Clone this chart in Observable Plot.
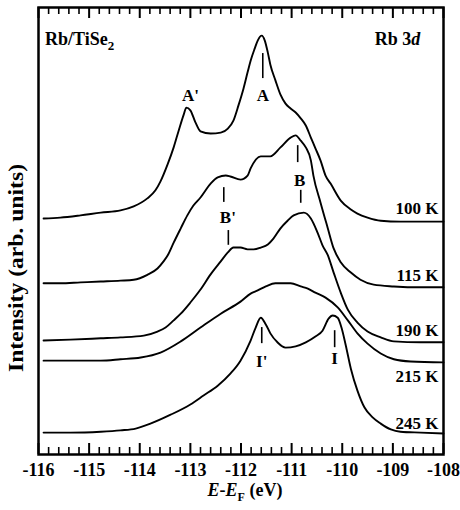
<!DOCTYPE html>
<html>
<head>
<meta charset="utf-8">
<script src="https://cdn.jsdelivr.net/npm/d3@7"></script>
<script src="https://cdn.jsdelivr.net/npm/@observablehq/plot@0.6"></script>
<style>
  body { margin: 0; background: #fff; }
  #chart svg { display: block; }
</style>
</head>
<body>
<div id="chart"></div>
<script>
// Rb 3d photoemission spectra of Rb/TiSe2, stacked by temperature (arb. units, offsets included)
const e100 = [-115.90,-115.57,-115.17,-114.77,-114.38,-114.12,-113.85,-113.69,-113.59,-113.45,-113.33,-113.23,-113.13,-113.08,-113.00,-112.90,-112.80,-112.60,-112.40,-112.26,-112.15,-112.05,-111.95,-111.87,-111.81,-111.73,-111.67,-111.59,-111.53,-111.47,-111.42,-111.32,-111.22,-111.12,-111.02,-110.92,-110.82,-110.72,-110.62,-110.53,-110.43,-110.33,-110.23,-110.03,-109.83,-109.70,-109.50,-109.24,-108.85,-108.45,-108.00];
const i100 = [5.28,5.30,5.35,5.41,5.46,5.55,5.73,5.91,6.11,6.49,6.87,7.25,7.61,7.76,7.70,7.43,7.23,7.18,7.20,7.29,7.47,7.81,8.19,8.55,8.81,9.08,9.26,9.37,9.26,8.99,8.72,8.37,8.05,7.85,7.74,7.65,7.52,7.36,7.09,6.85,6.58,6.24,6.06,5.68,5.48,5.39,5.30,5.23,5.21,5.21,5.21];

const e115 = [-115.90,-115.57,-115.17,-114.77,-114.38,-114.12,-113.85,-113.65,-113.53,-113.45,-113.33,-113.19,-113.06,-112.94,-112.80,-112.60,-112.46,-112.30,-112.21,-112.01,-111.87,-111.81,-111.61,-111.42,-111.22,-111.02,-110.92,-110.82,-110.72,-110.62,-110.57,-110.43,-110.29,-110.17,-110.03,-109.83,-109.64,-109.38,-108.98,-108.45,-108.00];
const i115 = [3.83,3.83,3.85,3.87,3.89,3.91,4.02,4.16,4.32,4.45,4.74,5.06,5.35,5.57,5.75,6.06,6.20,6.24,6.22,6.15,6.24,6.40,6.67,6.67,6.87,7.09,7.14,7.02,6.87,6.58,6.24,5.64,5.08,4.61,4.30,4.07,3.91,3.80,3.76,3.74,3.74];

const e190 = [-115.90,-115.37,-114.77,-114.38,-113.92,-113.65,-113.49,-113.33,-113.19,-113.00,-112.80,-112.60,-112.40,-112.26,-112.15,-112.01,-111.87,-111.75,-111.61,-111.47,-111.36,-111.22,-111.08,-110.96,-110.76,-110.62,-110.49,-110.39,-110.29,-110.17,-110.03,-109.89,-109.70,-109.50,-109.24,-108.98,-108.45,-108.00];
const i190 = [2.55,2.57,2.60,2.62,2.66,2.75,2.84,3.00,3.15,3.40,3.69,4.03,4.32,4.52,4.63,4.63,4.59,4.59,4.63,4.70,4.83,5.06,5.23,5.35,5.41,5.28,4.97,4.68,4.47,4.07,3.62,3.24,2.95,2.75,2.62,2.53,2.51,2.51];

const e215 = [-115.90,-115.37,-114.77,-114.38,-113.98,-113.59,-113.19,-112.80,-112.40,-112.01,-111.81,-111.67,-111.51,-111.32,-111.02,-110.82,-110.68,-110.53,-110.33,-110.09,-109.89,-109.70,-109.50,-109.24,-108.98,-108.65,-108.00];
const i215 = [2.10,2.10,2.10,2.13,2.17,2.28,2.53,2.84,3.15,3.42,3.60,3.67,3.76,3.83,3.83,3.76,3.71,3.62,3.51,3.29,3.00,2.71,2.48,2.26,2.13,2.08,2.06];

const e245 = [-115.90,-115.37,-114.77,-114.38,-114.08,-113.79,-113.39,-113.00,-112.74,-112.46,-112.21,-112.01,-111.81,-111.71,-111.61,-111.51,-111.42,-111.28,-111.12,-110.92,-110.72,-110.53,-110.39,-110.27,-110.19,-110.09,-110.01,-109.93,-109.83,-109.70,-109.56,-109.40,-109.24,-109.04,-108.85,-108.45,-108.00];
const i245 = [0.49,0.49,0.51,0.54,0.58,0.69,0.89,1.12,1.32,1.54,1.81,2.10,2.55,2.84,3.06,2.91,2.71,2.51,2.39,2.42,2.51,2.64,2.77,3.04,3.11,3.06,2.82,2.44,1.92,1.43,1.05,0.83,0.69,0.56,0.51,0.49,0.47];

// temperature labels and the level of each label's baseline
const temps = ["100 K", "115 K", "190 K", "215 K", "245 K"];
const tempLevels = [5.39, 3.89, 2.64, 1.63, 0.58];

// peak labels and their positions
const peakNames = ["A'", "A", "B'", "B", "I'", "I"];
const peakE = [-113.00, -111.57, -112.26, -110.84, -111.59, -110.15];
const peakI = [8.03, 8.03, 5.30, 6.13, 2.08, 2.15];

// short vertical markers pointing at the peaks
const markE = [-111.57, -112.34, -112.25, -110.88, -110.82, -111.59, -110.15];
const markLo = [8.41, 5.64, 4.68, 6.53, 5.62, 2.48, 2.39];
const markHi = [8.97, 5.97, 5.01, 6.91, 5.91, 2.84, 2.77];

// x ticks
const majorTicks = [-116, -115, -114, -113, -112, -111, -110, -109, -108];
const minorTicks = d3.range(0, 41).map(i => -116 + i * 0.2).filter(v => Math.abs(v - Math.round(v)) > 1e-6);

const series = [[e100, i100], [e115, i115], [e190, i190], [e215, i215], [e245, i245]];
const rows = series.flatMap(([e, v], k) => e.map((x, j) => ({temp: temps[k], energy: x, intensity: v[j]})));

const W = 460, H = 510;
const mL = 38, mR = 17, mT = 7, mB = 56;
const frameH = H - mT - mB;
const font = "'Liberation Serif', 'Times New Roman', serif";

const plot = Plot.plot({
  width: W,
  height: H,
  marginLeft: mL,
  marginRight: mR,
  marginTop: mT,
  marginBottom: mB,
  x: {domain: [-116, -108]},
  y: {domain: [0, 10], axis: null},
  style: {fontFamily: font, background: "white", color: "black"},
  marks: [
    Plot.line(rows, {x: "energy", y: "intensity", z: "temp", stroke: "black", strokeWidth: 1.9, curve: "monotone-x"}),
    // inward ticks on bottom and top edges
    Plot.ruleX(majorTicks, {x: d => d, insetTop: frameH - 11, stroke: "black", strokeWidth: 2}),
    Plot.ruleX(majorTicks, {x: d => d, insetBottom: frameH - 11, stroke: "black", strokeWidth: 2}),
    Plot.ruleX(minorTicks, {x: d => d, insetTop: frameH - 7, stroke: "black", strokeWidth: 1.6}),
    Plot.ruleX(minorTicks, {x: d => d, insetBottom: frameH - 7, stroke: "black", strokeWidth: 1.6}),
    Plot.axisX(majorTicks, {anchor: "bottom", tickSize: 0, tickPadding: 9, fontSize: 18, fontWeight: "bold", tickFormat: d => String(d), label: null}),
    Plot.frame({stroke: "black", strokeWidth: 2.5}),
    Plot.ruleX(markE, {x: d => d, y1: (d, i) => markLo[i], y2: (d, i) => markHi[i], stroke: "black", strokeWidth: 1.6}),
    Plot.text(peakNames, {x: (d, i) => peakE[i], y: (d, i) => peakI[i], text: d => d, fontSize: 17, fontWeight: "bold", lineAnchor: "middle", fill: "black"}),
    Plot.text(temps, {x: () => -108, y: (d, i) => tempLevels[i], text: d => d, textAnchor: "end", lineAnchor: "bottom", dx: -5, fontSize: 17, fontWeight: "bold", fill: "black"})
  ]
});

const svg = d3.select(plot);
const xs = plot.scale("x"), ys = plot.scale("y");

// sample and core-level annotations
const sample = svg.append("text")
  .attr("x", xs.apply(-115.86)).attr("y", ys.apply(9.15))
  .attr("text-anchor", "start")
  .attr("font-family", font).attr("font-size", 18).attr("font-weight", "bold");
sample.append("tspan").text("Rb/TiSe");
sample.append("tspan").attr("font-size", 13).attr("dy", 5).text("2");

const level = svg.append("text")
  .attr("x", xs.apply(-108.45)).attr("y", ys.apply(9.15))
  .attr("text-anchor", "end")
  .attr("font-family", font).attr("font-size", 18).attr("font-weight", "bold");
level.append("tspan").text("Rb 3");
level.append("tspan").attr("font-style", "italic").text("d");

// x axis title: E-E_F (eV)
const xt = svg.append("text")
  .attr("x", 245).attr("y", 496)
  .attr("text-anchor", "middle")
  .attr("font-family", font).attr("font-size", 18).attr("font-weight", "bold");
xt.append("tspan").attr("font-style", "italic").text("E");
xt.append("tspan").text("-");
xt.append("tspan").attr("font-style", "italic").text("E");
xt.append("tspan").attr("font-size", 12).attr("dy", 5).text("F");
xt.append("tspan").attr("dy", -5).text(" (eV)");

// y axis title
svg.append("text")
  .attr("transform", "translate(23,268) rotate(-90)")
  .attr("text-anchor", "middle")
  .attr("font-family", font).attr("font-size", 20).attr("font-weight", "bold")
  .attr("textLength", 208).attr("lengthAdjust", "spacingAndGlyphs")
  .text("Intensity (arb. units)");

document.getElementById("chart").appendChild(plot);
</script>
</body>
</html>
